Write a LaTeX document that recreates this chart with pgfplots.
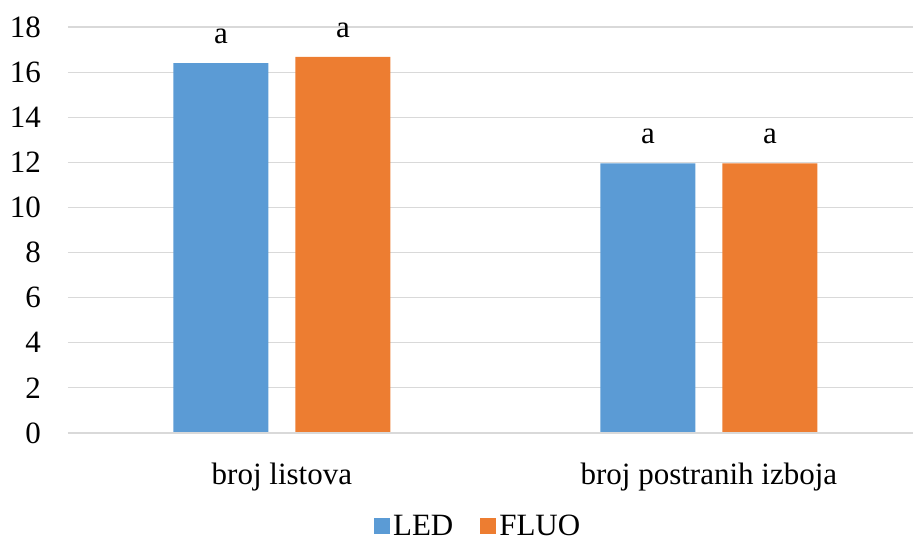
\documentclass[border=0pt]{standalone}
\usepackage{fontspec}
\setmainfont{Liberation Serif}
\usepackage{pgfplots}
\pgfplotsset{compat=1.18}
\definecolor{ledblue}{RGB}{91,155,213}
\definecolor{fluoorange}{RGB}{237,125,49}
\definecolor{gridgray}{RGB}{217,217,217}

\begin{document}
\begin{tikzpicture}
\path[use as bounding box] (-68bp,-109bp) rectangle (845bp,433bp);
\begin{axis}[
    at={(0,0)}, anchor=south west,
    scale only axis,
    width=845bp, height=406bp,
    ybar=27bp, bar width=95bp,
    xmin=-0.501, xmax=1.478,
    ymin=0, ymax=18,
    ytick={0,2,...,18},
    xtick={0,1},
    xticklabels={broj listova, broj postranih izboja},
    /pgf/number format/assume math mode=true,
    axis line style={draw=none},
    axis x line*=bottom,
    ymajorgrids,
    grid style={gridgray, line width=1.2bp},
    major tick length=0pt,
    tick label style={font=\fontsize{31bp}{36bp}\selectfont},
    yticklabel style={inner sep=0pt, xshift=-27bp},
    xticklabel style={inner sep=0pt, yshift=-30bp},
    nodes near coords={a},
    every node near coord/.append style={font=\fontsize{31bp}{36bp}\selectfont, inner sep=0pt, anchor=south, yshift=19bp},
    legend columns=2,
    legend style={draw=none, at={(0.486,-0.229)}, anchor=center,
        font=\fontsize{31bp}{36bp}\selectfont,
        /tikz/every even column/.append style={column sep=24bp},
        nodes={inner xsep=3bp, inner ysep=0pt}},
    legend image code/.code={\fill[#1] (0bp,-8bp) rectangle (16bp,8bp);},
    clip=false,
]
\addplot[fill=ledblue, draw=none] coordinates {(0,16.40) (1,11.95)};
\addplot[fill=fluoorange, draw=none] coordinates {(0,16.67) (1,11.95)};
\draw[gridgray, line width=1.2bp] (axis cs:-0.501,0) -- (axis cs:1.478,0);
\legend{LED, FLUO}
\end{axis}
\end{tikzpicture}
\end{document}
